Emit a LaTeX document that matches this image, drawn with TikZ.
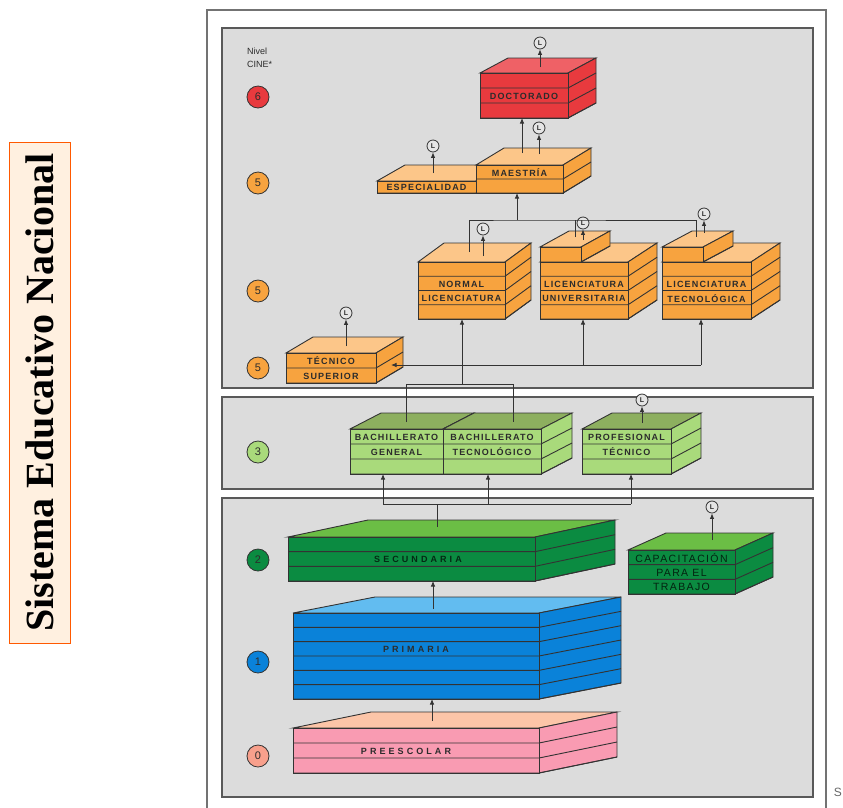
\documentclass[tikz,border=0pt]{standalone}
\usepackage{fontspec}
\setmainfont{Liberation Sans}
\newfontfamily\titulo{Liberation Serif}
\newfontfamily\espaciada{Liberation Sans}[LetterSpace=13]
\newfontfamily\muyespaciada{Liberation Sans}[LetterSpace=34]
\usepackage{xcolor}
\usepackage{tikz}
\usetikzlibrary{arrows.meta,positioning}

\definecolor{linea}{HTML}{333333}
\definecolor{texto}{HTML}{2C2C2C}
\definecolor{panel}{HTML}{DCDCDC}
\definecolor{rojo}{HTML}{E83A3E}
\definecolor{rojoclaro}{HTML}{EF6166}
\definecolor{naranja}{HTML}{F7A33F}
\definecolor{naranjaclaro}{HTML}{FCC689}
\definecolor{verde}{HTML}{A9DA7B}
\definecolor{verdeclaro}{HTML}{8DAF5F}
\definecolor{verdeosc}{HTML}{0B8B41}
\definecolor{verdeoscclaro}{HTML}{6BBE45}
\definecolor{azul}{HTML}{0A82D9}
\definecolor{azulclaro}{HTML}{62BCF0}
\definecolor{rosa}{HTML}{F99BB2}
\definecolor{rosaclaro}{HTML}{FCC5A8}
\definecolor{salmon}{HTML}{F8A08C}

% block: name, x, y (front top-left), width, height, depth x, depth y, layers, colour
\newcommand{\bloque}[9]{%
  \filldraw[draw=linea, line width=0.9pt, fill=#9claro] (#2,#3) -- ++(#6,-#7) -- ++(#4,0) -- ++(-#6,#7) -- cycle;
  \filldraw[draw=linea, line width=0.9pt, fill=#9] (#2+#4,#3) -- ++(#6,-#7) -- ++(0,#5) -- ++(-#6,#7) -- cycle;
  \node[draw=linea, line width=0.9pt, fill=#9, anchor=north west, minimum width=#4pt, minimum height=#5pt, inner sep=0pt, outer sep=0pt] (#1) at (#2,#3) {};
  \foreach \k in {1,...,#8} {\draw[linea, line width=0.9pt] (#2,{#3+\k*#5/#8}) -- ++(#4,0) -- ++(#6,-#7);}
}

\begin{document}
\begin{tikzpicture}[x=1pt, y=-1pt]
    % Define styles
    \tikzstyle{panelbox} = [fill=panel, draw=black!65, line width=1.2pt]
    \tikzstyle{etiqueta} = [font=\espaciada\bfseries\fontsize{9}{9}\selectfont, text=texto, inner sep=0pt]
    \tikzstyle{ancha} = [font=\muyespaciada\bfseries\fontsize{9}{9}\selectfont, text=texto, inner sep=0pt]
    \tikzstyle{nivel} = [circle, draw=linea, line width=0.8pt, minimum size=22pt, inner sep=0pt, font=\fontsize{11}{11}\selectfont, text=texto]
    \tikzstyle{ele} = [circle, draw=linea, line width=0.8pt, fill=white!90!black, minimum size=12pt, inner sep=0pt, font=\bfseries\fontsize{7}{7}\selectfont, text=texto]
    \tikzstyle{flecha} = [draw=linea, line width=0.8pt, -{Latex[length=5.5pt,width=4.5pt]}]
    \tikzstyle{conector} = [draw=linea, line width=0.8pt]

    \useasboundingbox (0,0) rectangle (843,807);

    % Title
    \node[rotate=90, draw=orange!70!red, line width=0.8pt, fill=orange!12!white, minimum width=501pt, minimum height=61pt, font=\titulo\bfseries\fontsize{40}{40}\selectfont] (titulo) at (39.5,392.5) {Sistema Educativo Nacional};

    % Frame and panels
    \draw[black!55, line width=1.5pt] (207,815) -- (207,10) -- (826,10) -- (826,815);
    \filldraw[panelbox] (222,28) rectangle (813,388);
    \filldraw[panelbox] (222,397) rectangle (813,489);
    \filldraw[panelbox] (222,498) rectangle (813,797);
    \node[anchor=east, inner sep=0pt, text=black!60, font=\fontsize{12}{12}\selectfont] (corte) at (842,792) {S};

    % Levels
    \node[anchor=west, inner sep=0pt, text=texto, font=\fontsize{9}{9}\selectfont] (nivel-t) at (247,51) {Nivel};
    \node[anchor=west, inner sep=0pt, text=texto, font=\fontsize{9}{9}\selectfont] (cine-t) at (247,64) {CINE*};
    \node[nivel, fill=rojo] (n6) at (258,97) {6};
    \node[nivel, fill=naranja] (n5a) at (258,183) {5};
    \node[nivel, fill=naranja] (n5b) at (258,291) {5};
    \node[nivel, fill=naranja] (n5c) at (258,368) {5};
    \node[nivel, fill=verde] (n3) at (258,452) {3};
    \node[nivel, fill=verdeosc] (n2) at (258,560) {2};
    \node[nivel, fill=azul] (n1) at (258,662) {1};
    \node[nivel, fill=salmon] (n0) at (258,756) {0};

    % Higher education
    \bloque{doc}{480}{73}{88}{45}{28}{15}{3}{rojo}
    \bloque{esp}{377}{181}{99}{12}{28}{16}{1}{naranja}
    \bloque{mae}{476}{165}{87}{28}{28}{17}{2}{naranja}
    \bloque{nor}{418}{262}{87}{57}{26}{19}{4}{naranja}
    \bloque{lu}{540}{262}{88}{57}{29}{19}{4}{naranja}
    \bloque{lu-alto}{540}{247}{41}{15}{29}{16}{1}{naranja}
    \bloque{lt}{662}{262}{89}{57}{29}{19}{4}{naranja}
    \bloque{lt-alto}{662}{247}{41}{15}{30}{16}{1}{naranja}
    \bloque{tsup}{286}{353}{90}{30}{27}{16}{2}{naranja}

    % Upper secondary
    \bloque{bg}{350}{429}{93}{45}{31}{16}{3}{verde}
    \bloque{bt}{443}{429}{98}{45}{31}{16}{3}{verde}
    \bloque{pt}{582}{429}{89}{45}{30}{16}{3}{verde}

    % Basic education
    \bloque{sec}{288}{537}{247}{44}{80}{17}{3}{verdeosc}
    \bloque{cap}{628}{550}{107}{44}{38}{17}{3}{verdeosc}
    \bloque{pri}{293}{613}{246}{86}{82}{16}{6}{azul}
    \bloque{pre}{293}{728}{246}{45}{78}{16}{3}{rosa}

    % Labels
    \node[etiqueta] (t-doc) at (524,96) {DOCTORADO};
    \node[etiqueta] (t-mae) at (519.5,172.5) {MAESTRÍA};
    \node[etiqueta] (t-esp) at (426.5,187.5) {ESPECIALIDAD};
    \node[etiqueta] (t-nor1) at (461.5,284.5) {NORMAL};
    \node[etiqueta] (t-nor2) at (461.5,298.5) {LICENCIATURA};
    \node[etiqueta] (t-lu1) at (584,284.5) {LICENCIATURA};
    \node[etiqueta] (t-lu2) at (584,298.5) {UNIVERSITARIA};
    \node[etiqueta] (t-lt1) at (706.5,284.5) {LICENCIATURA};
    \node[etiqueta] (t-lt2) at (706.5,298.5) {TECNOLÓGICA};
    \node[etiqueta] (t-ts1) at (331,361) {TÉCNICO};
    \node[etiqueta] (t-ts2) at (331,376) {SUPERIOR};
    \node[etiqueta] (t-bg1) at (396.5,437) {BACHILLERATO};
    \node[etiqueta] (t-bg2) at (396.5,452) {GENERAL};
    \node[etiqueta] (t-bt1) at (492,437) {BACHILLERATO};
    \node[etiqueta] (t-bt2) at (492,452) {TECNOLÓGICO};
    \node[etiqueta] (t-pt1) at (626.5,437) {PROFESIONAL};
    \node[etiqueta] (t-pt2) at (626.5,452) {TÉCNICO};
    \node[ancha, text=black!70!verdeosc] (t-sec) at (418,559) {SECUNDARIA};
    \node[etiqueta, font=\espaciada\fontsize{10.5}{11}\selectfont, text=black!75!verdeosc] (t-cap1) at (681.5,557.5) {CAPACITACIÓN};
    \node[etiqueta, font=\espaciada\fontsize{10.5}{11}\selectfont, text=black!75!verdeosc] (t-cap2) at (681.5,572.5) {PARA EL};
    \node[etiqueta, font=\espaciada\fontsize{10.5}{11}\selectfont, text=black!75!verdeosc] (t-cap3) at (681.5,587) {TRABAJO};
    \node[ancha] (t-pri) at (416,649) {PRIMARIA};
    \node[ancha] (t-pre) at (406,751) {PREESCOLAR};

    % Exit marks
    \node[ele] (L-doc) at (540,43) {L};
    \node[ele] (L-mae) at (539,128) {L};
    \node[ele] (L-esp) at (433,146) {L};
    \node[ele] (L-nor) at (483,229) {L};
    \node[ele] (L-lu) at (583,223) {L};
    \node[ele] (L-lt) at (704,214) {L};
    \node[ele] (L-tsup) at (346,313) {L};
    \node[ele] (L-pt) at (642,400) {L};
    \node[ele] (L-cap) at (712,507) {L};

    \coordinate (doc-top) at (540,67);
    \coordinate (mae-L) at (539,154);
    \coordinate (esp-top) at (433,173);
    \coordinate (nor-L) at (483,256);
    \coordinate (lu-L) at (583,240);
    \coordinate (lt-L) at (704,233);
    \coordinate (tsup-top) at (346,346);
    \coordinate (pt-top) at (642,423);
    \coordinate (cap-top) at (712,540);
    \draw[flecha] (doc-top) -- (L-doc);
    \draw[flecha] (mae-L) -- (L-mae);
    \draw[flecha] (esp-top) -- (L-esp);
    \draw[flecha] (nor-L) -- (L-nor);
    \draw[flecha] (lu-L) -- (L-lu);
    \draw[flecha] (lt-L) -- (L-lt);
    \draw[flecha] (tsup-top) -- (L-tsup);
    \draw[flecha] (pt-top) -- (L-pt);
    \draw[flecha] (cap-top) -- (L-cap);

    % Arrows
    \coordinate (mae-top) at (522,153);
    \draw[flecha] (mae-top) -- (mae-top |- doc.south);

    \coordinate (nor-top) at (469,252);
    \coordinate (lu-top) at (575,237);
    \coordinate (lt-top) at (696,237);
    \coordinate (lic-j) at (517,220);
    \draw[conector] (nor-top) |- (lic-j) -| (lt-top);
    \draw[conector] (lu-top) -- (lu-top |- lic-j);
    \draw[flecha] (lic-j) -- (lic-j |- mae.south);

    \coordinate (bg-top) at (406,422);
    \coordinate (bt-top) at (513,422);
    \coordinate (bach-j) at (462,384);
    \coordinate (sup-j) at (462,365);
    \coordinate (lu-j) at (583,365);
    \coordinate (lt-j) at (701,365);
    \coordinate (tsup-lado) at (391,365);
    \draw[conector] (bg-top) |- (bt-top |- bach-j) -- (bt-top);
    \draw[flecha] (bach-j) -- (bach-j |- nor.south);
    \draw[flecha] (sup-j) -- (tsup-lado);
    \draw[conector] (sup-j) -- (lt-j);
    \draw[flecha] (lu-j) -- (lu-j |- lu.south);
    \draw[flecha] (lt-j) -- (lt-j |- lt.south);

    \coordinate (sec-top) at (437,527);
    \coordinate (med-j) at (437,504);
    \coordinate (bg-j) at (383,504);
    \coordinate (bt-j) at (488,504);
    \coordinate (pt-j) at (631,504);
    \draw[conector] (sec-top) -- (med-j);
    \draw[conector] (bg-j) -- (pt-j);
    \foreach \c in {bg-j, bt-j, pt-j}
        \draw[flecha] (\c) -- (\c |- bg.south);

    \coordinate (pri-top) at (433,609);
    \draw[flecha] (pri-top) -- (pri-top |- sec.south);
    \coordinate (pre-top) at (432,721);
    \draw[flecha] (pre-top) -- (pre-top |- pri.south);
\end{tikzpicture}
\end{document}
